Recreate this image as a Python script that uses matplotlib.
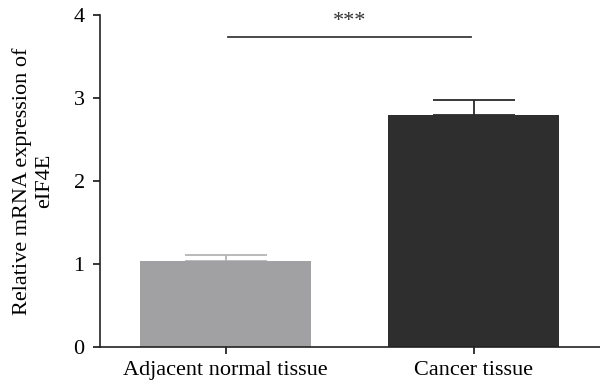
import matplotlib
matplotlib.use("Agg")
import matplotlib.pyplot as plt

categories = ["Adjacent normal tissue", "Cancer tissue"]
means = [1.04, 2.80]
errors = [0.07, 0.18]
bar_colors = ["#a1a1a3", "#2e2e2e"]
err_colors = ["#b4b4b4", "#2a2a2a"]
yticks = [0, 1, 2, 3, 4]
sig_y = 3.73
sig_label = "***"

plt.rcParams['font.family'] = ['Liberation Serif', 'DejaVu Serif']

fig = plt.figure(figsize=(6, 3.87), dpi=100)
ax = fig.add_axes([100/600, 40/387, 500/600, 332/387])

x = list(range(len(categories)))
for i in x:
    ax.bar(i, means[i], width=0.69, color=bar_colors[i], zorder=2)
    ax.errorbar(i, means[i], yerr=[[0], [errors[i]]], fmt='none',
                ecolor=err_colors[i], elinewidth=1.3, capsize=29.5,
                capthick=1.3, zorder=1)

ax.plot([0.01, 0.99], [sig_y, sig_y], color="#3a3a3a", lw=1.3, clip_on=False)
ax.text(0.5, sig_y + 0.08, sig_label, ha='center', va='bottom', fontsize=16,
        color="#333333", clip_on=False)

ax.set_xlim(-0.507, 1.51)
ax.set_ylim(0, 4)
ax.set_yticks(yticks)
ax.set_xticks(x)
ax.set_xticklabels(categories, fontsize=16)
ax.tick_params(axis='y', labelsize=16, length=5, width=1.1, direction='out', pad=6)
ax.tick_params(axis='x', length=5, width=1.1, direction='out', pad=5)
ax.set_ylabel("Relative mRNA expression of\neIF4E", fontsize=16, labelpad=14,
              linespacing=1.25)
for s in ['top', 'right']:
    ax.spines[s].set_visible(False)
for s in ['left', 'bottom']:
    ax.spines[s].set_linewidth(1.2)
    ax.spines[s].set_color("#222222")

fig.savefig("out.png", dpi=100)
